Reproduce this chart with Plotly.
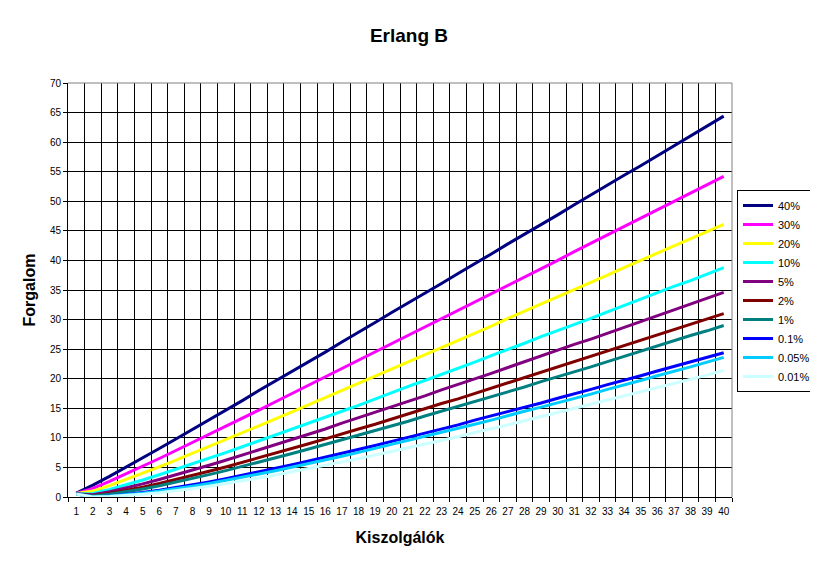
import plotly.graph_objects as go

servers = list(range(1, 41))

labels = ["40%", "30%", "20%", "10%", "5%", "2%", "1%", "0.1%", "0.05%", "0.01%"]
colors = ["#000080", "#FF00FF", "#FFFF00", "#00FFFF", "#800080",
          "#800000", "#008080", "#0000FF", "#00CCFF", "#CCFFFF"]

b40 = [0.67, 2.00, 3.48, 5.02, 6.60, 8.19, 9.80, 11.4, 13.0, 14.7,
       16.3, 18.0, 19.6, 21.2, 22.9, 24.5, 26.2, 27.8, 29.5, 31.2,
       32.8, 34.5, 36.1, 37.8, 39.4, 41.1, 42.8, 44.4, 46.1, 47.7,
       49.4, 51.1, 52.7, 54.4, 56.0, 57.7, 59.4, 61.0, 62.7, 64.4]
b30 = [0.62, 1.45, 2.63, 3.89, 5.19, 6.51, 7.86, 9.21, 10.6, 12.0,
       13.3, 14.7, 16.1, 17.5, 18.9, 20.3, 21.7, 23.1, 24.5, 25.9,
       27.3, 28.7, 30.1, 31.6, 33.0, 34.4, 35.8, 37.2, 38.6, 40.0,
       41.5, 42.9, 44.3, 45.7, 47.1, 48.6, 50.0, 51.4, 52.8, 54.2]
b20 = [0.58, 1.00, 1.93, 2.95, 4.01, 5.11, 6.23, 7.37, 8.52, 9.68,
       10.9, 12.0, 13.2, 14.4, 15.6, 16.8, 18.0, 19.2, 20.4, 21.6,
       22.8, 24.1, 25.3, 26.5, 27.7, 28.9, 30.2, 31.4, 32.6, 33.8,
       35.1, 36.3, 37.5, 38.8, 40.0, 41.2, 42.4, 43.7, 44.9, 46.1]
b10 = [0.55, 0.60, 1.27, 2.05, 2.88, 3.76, 4.67, 5.60, 6.55, 7.51,
       8.49, 9.47, 10.5, 11.5, 12.5, 13.5, 14.5, 15.5, 16.6, 17.6,
       18.7, 19.7, 20.7, 21.8, 22.8, 23.9, 24.9, 26.0, 27.1, 28.1,
       29.2, 30.2, 31.3, 32.4, 33.4, 34.5, 35.6, 36.6, 37.7, 38.8]
b5 = [0.53, 0.38, 0.90, 1.52, 2.22, 2.96, 3.74, 4.54, 5.37, 6.22,
      7.08, 7.95, 8.83, 9.73, 10.6, 11.5, 12.5, 13.4, 14.3, 15.2,
      16.2, 17.1, 18.1, 19.0, 20.0, 20.9, 21.9, 22.9, 23.8, 24.8,
      25.8, 26.7, 27.7, 28.7, 29.7, 30.7, 31.6, 32.6, 33.6, 34.6]
b2 = [0.52, 0.22, 0.60, 1.09, 1.66, 2.28, 2.94, 3.63, 4.34, 5.08,
      5.84, 6.61, 7.40, 8.20, 9.01, 9.83, 10.7, 11.5, 12.3, 13.2,
      14.0, 14.9, 15.8, 16.6, 17.5, 18.4, 19.3, 20.2, 21.0, 21.9,
      22.8, 23.7, 24.6, 25.5, 26.4, 27.3, 28.3, 29.2, 30.1, 31.0]
b1 = [0.51, 0.15, 0.46, 0.87, 1.36, 1.91, 2.50, 3.13, 3.78, 4.46,
      5.16, 5.88, 6.61, 7.35, 8.11, 8.88, 9.65, 10.4, 11.2, 12.0,
      12.8, 13.7, 14.5, 15.3, 16.1, 17.0, 17.8, 18.6, 19.5, 20.3,
      21.2, 22.0, 22.9, 23.8, 24.6, 25.5, 26.4, 27.3, 28.1, 29.0]
b01 = [0.50, 0.05, 0.19, 0.44, 0.76, 1.15, 1.58, 2.05, 2.56, 3.09,
       3.65, 4.23, 4.83, 5.45, 6.08, 6.72, 7.38, 8.05, 8.72, 9.41,
       10.1, 10.8, 11.5, 12.2, 13.0, 13.7, 14.4, 15.2, 15.9, 16.7,
       17.4, 18.2, 19.0, 19.7, 20.5, 21.3, 22.1, 22.9, 23.7, 24.4]
b005 = [0.50, 0.03, 0.15, 0.36, 0.65, 1.00, 1.39, 1.83, 2.30, 2.80,
        3.33, 3.88, 4.45, 5.04, 5.65, 6.27, 6.90, 7.55, 8.21, 8.88,
        9.56, 10.2, 10.9, 11.6, 12.3, 13.0, 13.8, 14.5, 15.2, 15.9,
        16.7, 17.4, 18.2, 18.9, 19.7, 20.5, 21.2, 22.0, 22.8, 23.6]
b001 = [0.50, 0.01, 0.09, 0.24, 0.45, 0.73, 1.05, 1.42, 1.83, 2.26,
        2.72, 3.21, 3.71, 4.24, 4.78, 5.34, 5.91, 6.49, 7.09, 7.70,
        8.32, 8.95, 9.58, 10.2, 10.9, 11.5, 12.2, 12.9, 13.6, 14.2,
        14.9, 15.6, 16.3, 17.0, 17.8, 18.5, 19.2, 19.9, 20.6, 21.4]

series = [b40, b30, b20, b10, b5, b2, b1, b01, b005, b001]

xtick_labels = [str(n) for n in servers]
ytick_vals = list(range(0, 75, 5))

FONT = "Liberation Sans, Arial, sans-serif"

# the page places the figure 8px in from the window's top-left corner
W, H = 810, 561
ML, MT = 60, 75
PW, PH = 664, 414

fig = go.Figure()
for name, col, vals in zip(labels, colors, series):
    fig.add_trace(go.Scatter(x=servers, y=vals, mode="lines", name=name,
                             line=dict(color=col, width=3)))

fig.update_layout(
    width=W, height=H,
    paper_bgcolor="white", plot_bgcolor="white",
    margin=dict(l=ML, r=W - ML - PW, t=MT, b=H - MT - PH, autoexpand=False),
    font=dict(family=FONT, size=10, color="black"),
    title=dict(text="<b>Erlang B</b>", x=(409 - 8 - ML) / PW, xref="paper", xanchor="center",
               y=1 - 27 / H, yref="container", yanchor="middle",
               font=dict(family=FONT, size=19, color="black")),
    showlegend=True,
    legend=dict(x=(737 - 8 - ML) / PW, xanchor="left",
                y=(MT + PH - (190 - 8)) / PH, yanchor="top",
                bordercolor="black", borderwidth=1, bgcolor="white",
                font=dict(family=FONT, size=11, color="black"),
                itemwidth=30, tracegroupgap=0),
    xaxis=dict(
        range=[0.5, 40.5], tickmode="array", tickvals=servers, ticktext=xtick_labels,
        showgrid=False, ticks="outside", ticklen=5, tickcolor="rgba(0,0,0,0)",
        showline=True, linecolor="black", linewidth=1, zeroline=False,
        tickfont=dict(family=FONT, size=10, color="black"),
        minor=dict(tick0=0.5, dtick=1, showgrid=True, gridcolor="black", gridwidth=1,
                   ticks="outside", ticklen=4, tickcolor="black"),
        title=dict(text="<b>Kiszolgálók</b>", standoff=15,
                   font=dict(family=FONT, size=16, color="black")),
        fixedrange=True,
    ),
    yaxis=dict(
        range=[0, 70], tickmode="array", tickvals=ytick_vals,
        showgrid=True, gridcolor="black", gridwidth=1,
        ticks="outside", ticklen=4, tickcolor="black",
        showline=True, linecolor="black", linewidth=1, zeroline=False,
        tickfont=dict(family=FONT, size=10, color="black"),
        title=dict(text="<b>Forgalom</b>", standoff=10,
                   font=dict(family=FONT, size=16, color="black")),
        fixedrange=True,
    ),
    shapes=[
        dict(type="line", xref="paper", yref="paper", x0=0, x1=1, y0=1, y1=1,
             line=dict(color="#808080", width=1), layer="above"),
        dict(type="line", xref="paper", yref="paper", x0=1, x1=1, y0=0, y1=1,
             line=dict(color="#808080", width=1), layer="above"),
    ],
)

fig.write_html("out.html", config={"displayModeBar": False})
